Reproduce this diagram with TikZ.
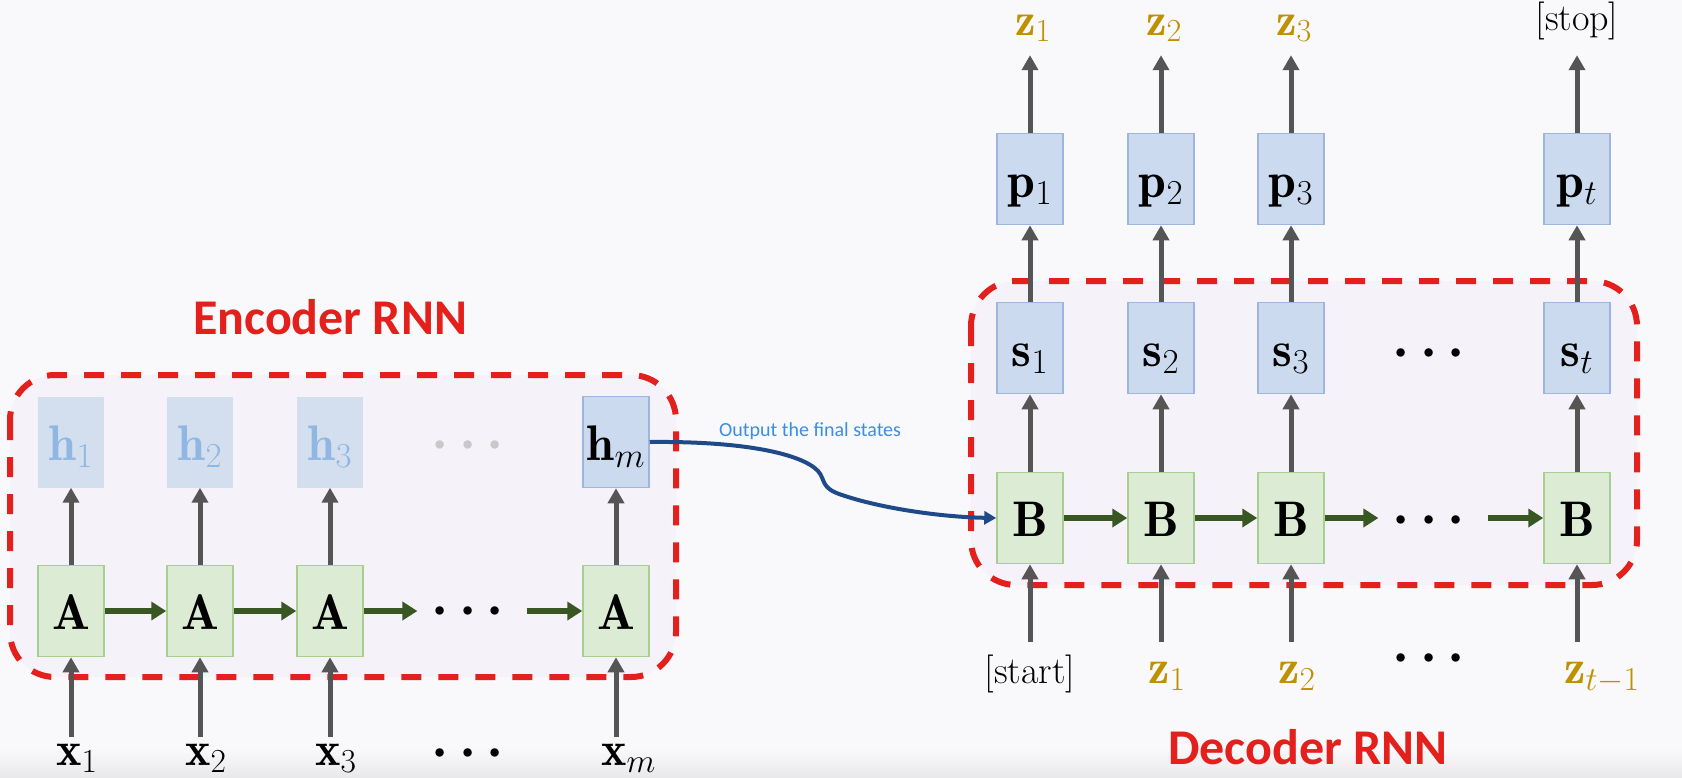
\RequirePackage{fix-cm}
\documentclass[tikz,border=0pt]{standalone}
\usepackage{amsmath}
\usepackage{fontspec}
\newfontfamily\carlito{Carlito}
\usetikzlibrary{arrows.meta}
\definecolor{bg}{HTML}{F9F9FB}
\definecolor{bgband}{HTML}{E9E9EB}
\definecolor{lav}{HTML}{F6F2FA}
\definecolor{dred}{HTML}{E3201B}
\definecolor{gfill}{HTML}{DCEBD3}
\definecolor{gline}{HTML}{A8CF90}
\definecolor{bfill}{HTML}{CBDAEE}
\definecolor{bline}{HTML}{9DB6DC}
\definecolor{hfade}{HTML}{D3DFEF}
\definecolor{htext}{HTML}{90B6E2}
\definecolor{arrg}{HTML}{555555}
\definecolor{darkgreen}{HTML}{385723}
\definecolor{gold}{HTML}{BF9000}
\definecolor{curveblue}{HTML}{1F4A8A}
\definecolor{txtblue}{HTML}{3A8EE6}
\definecolor{dotgray}{HTML}{C8C8C8}
\tikzset{
 cell/.style={minimum width=66pt, minimum height=91pt, inner sep=0pt, text height=36pt, text depth=0pt, font=\fontsize{50}{58}\selectfont},
 gcell/.style={cell, fill=gfill, draw=gline, line width=1.5pt},
 bcell/.style={cell, fill=bfill, draw=bline, line width=1.5pt},
 fadecell/.style={cell, fill=hfade, text=htext},
 lbl/.style={inner sep=0pt, anchor=base west, text height=28pt, text depth=10pt, font=\fontsize{48}{56}\selectfont},
 toplbl/.style={inner sep=0pt, anchor=base west, text height=20pt, text depth=9pt, font=\fontsize{46}{54}\selectfont},
 dotlbl/.style={inner sep=0pt, anchor=base, font=\fontsize{54}{62}\selectfont},
 upar/.style={draw=arrg, line width=5pt, -{Triangle[length=15pt,width=16pt]}},
 recar/.style={draw=darkgreen, line width=5.5pt, -{Triangle[length=15pt,width=18pt]}},
 region/.style={draw=dred, fill=lav, line width=6pt, dash pattern=on 20pt off 17pt, rounded corners=45pt},
 title/.style={anchor=base, inner sep=0pt, text=dred, font=\carlito\bfseries\fontsize{50}{58}\selectfont},
}
\begin{document}
\begin{tikzpicture}[x=1pt,y=-1pt]
\useasboundingbox (0,0) rectangle (1682,777);
\fill[bg] (0,0) rectangle (1682,777);
\shade[top color=bg, bottom color=bgband] (0,748) rectangle (1682,777);

% regions
\draw[region] (10,375) rectangle (676,677);
\draw[region] (971,281) rectangle (1637,585);

% titles
\node[title] (enc) at (330,334) {Encoder RNN};
\node[title] (dec) at (1308,764) {Decoder RNN};

% ---------- Encoder ----------
\node[fadecell] (h1) at (71,442) {$\mathbf{h}_1$};
\node[fadecell] (h2) at (200,442) {$\mathbf{h}_2$};
\node[fadecell] (h3) at (330,442) {$\mathbf{h}_3$};
\node[bcell] (hm) at (616,442) {$\mathbf{h}_m$};
\node[dotlbl, text=dotgray] (hdots) at (473,458) {$\boldsymbol{\cdots}$};

\node[gcell] (A1) at (71,611) {$\mathbf{A}$};
\node[gcell] (A2) at (200,611) {$\mathbf{A}$};
\node[gcell] (A3) at (330,611) {$\mathbf{A}$};
\node[gcell] (Am) at (616,611) {$\mathbf{A}$};
\node[dotlbl] (Adots) at (473,624) {$\boldsymbol{\cdots}$};

\node[lbl] (x1) at (56,765) {$\mathbf{x}_1$};
\node[lbl] (x2) at (185,765) {$\mathbf{x}_2$};
\node[lbl] (x3) at (315,765) {$\mathbf{x}_3$};
\node[lbl] (xm) at (601,765) {$\mathbf{x}_m$};
\node[dotlbl] (xdots) at (473,766) {$\boldsymbol{\cdots}$};

\foreach \i in {1,2,3,m}{
  \draw[upar] (x\i.north -| A\i) -- (A\i.south);
  \draw[upar] (A\i.north) -- (h\i.south);
}
\draw[recar] (A1.east) -- (A2.west);
\draw[recar] (A2.east) -- (A3.west);
\draw[recar, shorten >=14pt] (A3.east) -- (A3.east -| Adots.west);
\draw[recar, shorten <=12pt] (Am.west -| Adots.east) -- (Am.west);

% ---------- Decoder ----------
\node[bcell] (p1) at (1030,179) {$\mathbf{p}_1$};
\node[bcell] (p2) at (1161,179) {$\mathbf{p}_2$};
\node[bcell] (p3) at (1291,179) {$\mathbf{p}_3$};
\node[bcell] (pt) at (1577,179) {$\mathbf{p}_t$};

\node[bcell] (s1) at (1030,348) {$\mathbf{s}_1$};
\node[bcell] (s2) at (1161,348) {$\mathbf{s}_2$};
\node[bcell] (s3) at (1291,348) {$\mathbf{s}_3$};
\node[bcell] (st) at (1577,348) {$\mathbf{s}_t$};
\node[dotlbl] (sdots) at (1434,366) {$\boldsymbol{\cdots}$};

\node[gcell] (B1) at (1030,518) {$\mathbf{B}$};
\node[gcell] (B2) at (1161,518) {$\mathbf{B}$};
\node[gcell] (B3) at (1291,518) {$\mathbf{B}$};
\node[gcell] (Bt) at (1577,518) {$\mathbf{B}$};
\node[dotlbl] (Bdots) at (1434,533) {$\boldsymbol{\cdots}$};

\node[lbl, anchor=base, font=\fontsize{38}{44}\selectfont] (in1) at (1030,683) {[start]};
\node[lbl, text=gold] (in2) at (1148,683) {$\mathbf{z}_1$};
\node[lbl, text=gold] (in3) at (1278,683) {$\mathbf{z}_2$};
\node[lbl, text=gold] (int) at (1564,683) {$\mathbf{z}_{t-1}$};
\node[dotlbl] (indots) at (1434,671) {$\boldsymbol{\cdots}$};

\node[toplbl, text=gold] (o1) at (1015,35) {$\mathbf{z}_1$};
\node[toplbl, text=gold] (o2) at (1146,35) {$\mathbf{z}_2$};
\node[toplbl, text=gold] (o3) at (1276,35) {$\mathbf{z}_3$};
\node[lbl, anchor=base, font=\fontsize{38}{44}\selectfont, text height=26pt, text depth=9pt] (ot) at (1577,30) {[stop]};

\draw[upar, shorten <=13pt] (in1.north -| B1) -- (B1.south);
\draw[upar, shorten <=13pt] (in2.north -| B2) -- (B2.south);
\draw[upar, shorten <=13pt] (in3.north -| B3) -- (B3.south);
\draw[upar, shorten <=13pt] (int.north -| Bt) -- (Bt.south);

\draw[upar] (B1.north) -- (s1.south);
\draw[upar] (B2.north) -- (s2.south);
\draw[upar] (B3.north) -- (s3.south);
\draw[upar] (Bt.north) -- (st.south);

\draw[upar] (s1.north) -- (p1.south);
\draw[upar] (s2.north) -- (p2.south);
\draw[upar] (s3.north) -- (p3.south);
\draw[upar] (st.north) -- (pt.south);

\draw[upar, shorten >=11pt] (p1.north) -- (o1.south -| p1);
\draw[upar, shorten >=11pt] (p2.north) -- (o2.south -| p2);
\draw[upar, shorten >=11pt] (p3.north) -- (o3.south -| p3);
\draw[upar, shorten >=16pt] (pt.north) -- (ot.south -| pt);

\draw[recar] (B1.east) -- (B2.west);
\draw[recar] (B2.east) -- (B3.west);
\draw[recar, shorten >=14pt] (B3.east) -- (B3.east -| Bdots.west);
\draw[recar, shorten <=12pt] (Bt.west -| Bdots.east) -- (Bt.west);

% ---------- connection ----------
\draw[curveblue, line width=4pt, -{Triangle[length=12pt,width=13pt]}]
  (hm.east) .. controls (745,441) and (802,454) .. (818,471)
  .. controls (826,480) and (820,488) .. (842,495)
  .. controls (880,508) and (940,517) .. (B1.west);
\node[anchor=base west, inner sep=0pt, text=txtblue, font=\carlito\fontsize{20}{24}\selectfont] (note) at (719,436) {Output the final states};
\end{tikzpicture}
\end{document}
